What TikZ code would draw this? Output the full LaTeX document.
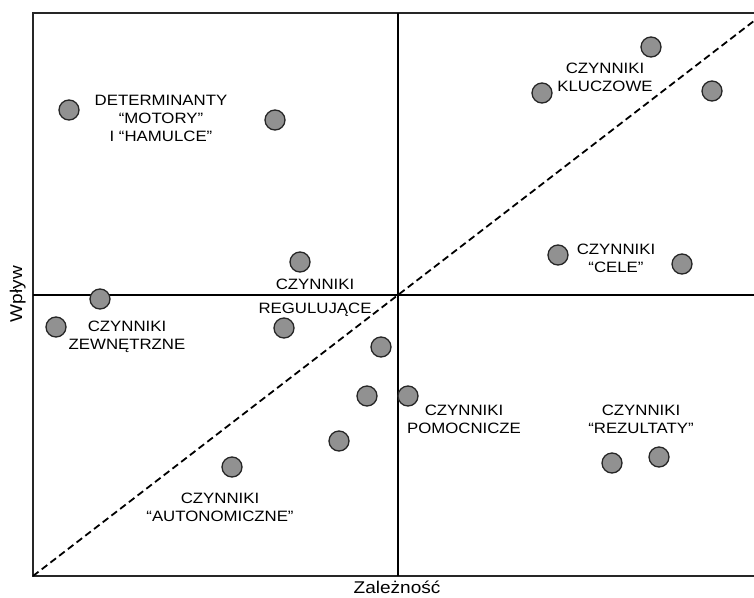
\documentclass[tikz,border=0pt]{standalone}
\usepackage{fontspec}
\setmainfont{Liberation Sans}[FakeStretch=1.12]
\usepackage{tikz}

\definecolor{szary}{RGB}{145,145,145}

\tikzset{
  punkt/.style={circle, draw=black!85, fill=szary, line width=1.3pt, minimum size=20pt, inner sep=0pt},
  opis/.style={align=center, anchor=north, inner sep=0pt, font=\fontsize{15}{18}\selectfont},
  osopis/.style={anchor=base, inner sep=0pt, font=\fontsize{17}{20}\selectfont}
}

\begin{document}
\begin{tikzpicture}[x=1pt, y=-1pt]
        \useasboundingbox (0,0) rectangle (754,597);
        \begin{scope}
            \clip (0,0) rectangle (754,597);
            \draw[line width=2pt, black!85] (33,13) rectangle (770,576);
            \draw[line width=1.8pt, dash pattern=on 7pt off 4pt] (33,576) -- (760.5,15.9);
        \end{scope}
        \coordinate (srodek) at (398,295);
        \draw[line width=1.6pt] (398,13) -- (srodek) -- (398,576);
        \draw[line width=1.6pt] (33,295) -- (srodek) -- (754,295);

        % punkty
        \node[punkt] (det1) at (69,110) {};
        \node[punkt] (det2) at (275,120) {};
        \node[punkt] (reg1) at (300,262) {};
        \node[punkt] (zew1) at (100,299) {};
        \node[punkt] (zew2) at (56,327) {};
        \node[punkt] (reg2) at (284,328) {};
        \node[punkt] (aut1) at (381,347) {};
        \node[punkt] (aut2) at (367,396) {};
        \node[punkt] (pom1) at (408,396) {};
        \node[punkt] (aut3) at (339,441) {};
        \node[punkt] (aut4) at (232,467) {};
        \node[punkt] (klu1) at (651,47) {};
        \node[punkt] (klu2) at (542,93) {};
        \node[punkt] (klu3) at (712,91) {};
        \node[punkt] (cel1) at (558,255) {};
        \node[punkt] (cel2) at (682,264) {};
        \node[punkt] (rez1) at (612,463) {};
        \node[punkt] (rez2) at (659,457) {};

        % opisy
        \node[opis] (detopis) at (161,95) {DETERMINANTY\\``MOTORY''\\I ``HAMULCE''};
        \node[opis] (regopis) at (315,279) {CZYNNIKI\\[6pt]REGULUJĄCE};
        \node[opis] (zewopis) at (127,321) {CZYNNIKI\\ZEWNĘTRZNE};
        \node[opis] (autopis) at (220,493) {CZYNNIKI\\``AUTONOMICZNE''};
        \node[opis] (pomopis) at (464,405) {CZYNNIKI\\POMOCNICZE};
        \node[opis] (rezopis) at (641,405) {CZYNNIKI\\``REZULTATY''};
        \node[opis] (kluopis) at (605,63) {CZYNNIKI\\KLUCZOWE};
        \node[opis] (celopis) at (616,244) {CZYNNIKI\\``CELE''};

        \node[osopis] (zaleznosc) at (397,593) {Zależność};
        \node[osopis, rotate=90] (wplyw) at (22,294) {Wpływ};
    \end{tikzpicture}
\end{document}
